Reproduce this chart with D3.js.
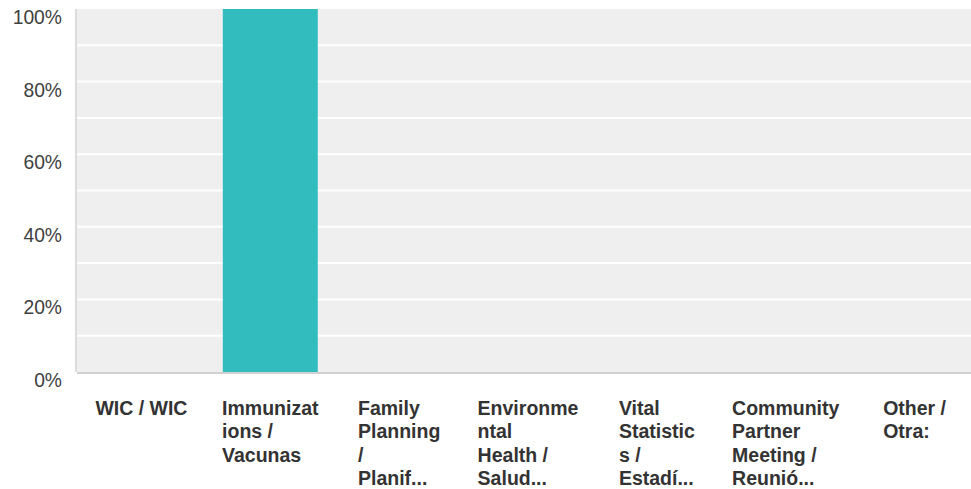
<!DOCTYPE html>
<html>
<head>
<meta charset="utf-8">
<script src="https://cdn.jsdelivr.net/npm/d3@7"></script>
<style>
  html, body { margin: 0; padding: 0; background: #fff; }
  svg { display: block; }
</style>
</head>
<body>
<svg id="chart" width="971" height="489"></svg>
<script>
const categories = [
  "WIC / WIC",
  "Immunizations / Vacunas",
  "Family Planning / Planificación familiar",
  "Environmental Health / Salud ambiental",
  "Vital Statistics / Estadísticas vitales",
  "Community Partner Meeting / Reunión de socios comunitarios",
  "Other / Otra:"
];
const categoryLabelLines = [
  ["WIC / WIC"],
  ["Immunizat", "ions /", "Vacunas"],
  ["Family", "Planning", "/", "Planif..."],
  ["Environme", "ntal", "Health /", "Salud..."],
  ["Vital", "Statistic", "s /", "Estadí..."],
  ["Community", "Partner", "Meeting /", "Reunió..."],
  ["Other /", "Otra:"]
];
const values = [0, 1, 0, 0, 0, 0, 0];
const yTicks = [0, 0.2, 0.4, 0.6, 0.8, 1.0];
const yGridTicks = [0.1, 0.2, 0.3, 0.4, 0.5, 0.6, 0.7, 0.8, 0.9];

const svg = d3.select("#chart");
const plotLeft = 77, plotRight = 979, plotTop = 9, plotBottom = 372;

const x = d3.scaleBand().domain(categories).range([plotLeft, plotRight])
  .paddingInner(0.263).paddingOuter(0.1315);
const y = d3.scaleLinear().domain([0, 1]).range([plotBottom, plotTop]);

// background
svg.append("rect")
  .attr("x", plotLeft).attr("y", plotTop)
  .attr("width", 971 - plotLeft).attr("height", plotBottom - plotTop)
  .attr("fill", "#efefef");

// gridlines
svg.append("g").selectAll("line").data(yGridTicks).join("line")
  .attr("x1", plotLeft).attr("x2", 971)
  .attr("y1", d => y(d)).attr("y2", d => y(d))
  .attr("stroke", "#ffffff").attr("stroke-width", 2);

// bars
svg.append("g").selectAll("rect").data(categories).join("rect")
  .attr("x", d => x(d))
  .attr("y", (d, i) => y(values[i]))
  .attr("width", x.bandwidth())
  .attr("height", (d, i) => plotBottom - y(values[i]))
  .attr("fill", "#33bcbd");

// axes lines
svg.append("line")
  .attr("x1", plotLeft - 1).attr("x2", plotLeft - 1)
  .attr("y1", plotTop).attr("y2", plotBottom)
  .attr("stroke", "#dcdcdc").attr("stroke-width", 2);
svg.append("line")
  .attr("x1", plotLeft).attr("x2", 971)
  .attr("y1", plotBottom + 1).attr("y2", plotBottom + 1)
  .attr("stroke", "#d2d2d2").attr("stroke-width", 2);

// y labels
svg.append("g").selectAll("text").data(yTicks).join("text")
  .attr("x", 62)
  .attr("y", d => y(d) + 15)
  .attr("text-anchor", "end")
  .attr("font-family", "'Liberation Sans', Arial, Helvetica, sans-serif")
  .attr("font-size", "19.3px")
  .attr("fill", "#3f3f3f")
  .text(d => d3.format(".0%")(d));

// category labels
const lab = svg.append("g").selectAll("g").data(categories).join("g");
lab.each(function(d, i) {
  const g = d3.select(this);
  const t = g.append("text")
    .attr("font-family", "'Liberation Sans', Arial, Helvetica, sans-serif")
    .attr("font-size", "19.5px")
    .attr("font-weight", "bold")
    .attr("fill", "#333");
  categoryLabelLines[i].forEach((line, k) => {
    t.append("tspan").attr("x", 0).attr("y", 415 + k * 23.4).text(line);
  });
  let maxW = 0;
  t.selectAll("tspan").each(function() {
    maxW = Math.max(maxW, this.getComputedTextLength());
  });
  const cx = x(d) + x.bandwidth() / 2;
  g.attr("transform", `translate(${cx - maxW / 2},0)`);
});
</script>
</body>
</html>
